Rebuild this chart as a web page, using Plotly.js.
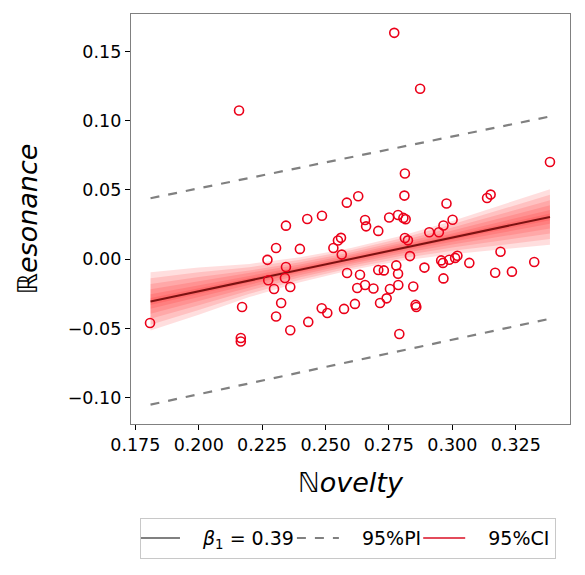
<!DOCTYPE html>
<html>
<head>
<meta charset="utf-8">
<script src="https://cdn.plot.ly/plotly-3.0.1.min.js"></script>
<style>html,body{margin:0;padding:0;background:#fff}#chart{width:585px;height:575px}</style>
</head>
<body>
<div id="chart"></div>
<script>
// Scatter observations (Novelty, Resonance)
const noveltyX = [0.1808,0.2159,0.2171,0.2166,0.2166,0.2271,0.2305,0.2344,0.2428,0.2486,
  0.2584,0.2344,0.2274,0.2297,0.2340,0.2361,0.2325,0.2305,0.2361,0.2432,
  0.2399,0.2485,0.2507,0.2573,0.2531,0.2549,0.2561,0.2564,0.2585,0.2813,
  0.2811,0.2629,0.2977,0.2656,0.2660,0.2708,0.2751,0.2786,0.2807,0.2816,
  0.3001,0.2965,0.2909,0.2947,0.2813,0.2825,0.2833,0.2956,0.2963,0.2988,
  0.3011,0.3020,0.3067,0.3190,0.3169,0.3235,0.3323,0.3385,0.3137,0.3151,
  0.2890,0.2779,0.2786,0.2708,0.2730,0.2636,0.2625,0.2656,0.2689,0.2754,
  0.2787,0.2846,0.2965,0.2616,0.2715,0.2741,0.2855,0.2858,0.2791,0.2771,0.2873];
const resonanceY = [-0.0461,0.1073,-0.0345,-0.0569,-0.0594,-0.0005,0.0081,0.0242,0.0290,0.0314,
  0.0408,-0.0056,-0.0152,-0.0215,-0.0136,-0.0201,-0.0316,-0.0414,-0.0513,-0.0453,
  0.0074,-0.0354,-0.0389,-0.0359,0.0081,0.0135,0.0154,0.0033,-0.0100,0.0618,
  0.0459,0.0454,0.0402,0.0283,0.0237,0.0204,0.0301,0.0319,0.0298,0.0288,
  0.0285,0.0243,0.0194,0.0194,0.0153,0.0136,0.0022,-0.0009,-0.0027,-0.0004,
  0.0009,0.0025,-0.0027,0.0054,-0.0098,-0.0090,-0.0020,0.0701,0.0442,0.0466,
  -0.0061,-0.0045,-0.0105,-0.0078,-0.0081,-0.0112,-0.0208,-0.0186,-0.0212,-0.0215,
  -0.0186,-0.0197,-0.0139,-0.0323,-0.0316,-0.0283,-0.0330,-0.0345,-0.0540,0.1634,0.1230];

// Fitted line and confidence band
const fitX = [0.181,0.200,0.220,0.240,0.260,0.280,0.300,0.320,0.3385];
const fitY = [-0.0305,-0.0231,-0.0154,-0.0076,0.0001,0.0079,0.0156,0.0234,0.0305];
const ciHalf = [0.021,0.017,0.012,0.009,0.008,0.009,0.012,0.016,0.020];

// Prediction interval lines
const piX = [0.181,0.3385];
const piUpper = [0.044,0.103];
const piLower = [-0.105,-0.043];

const betaLabel = '<i>β</i><sub>1</sub> = 0.39';
const piLabel = '95%PI';
const ciLabel = '95%CI';

const traces = [];
// layered CI band
const layerFactors = [1.0, 0.8, 0.6, 0.42, 0.25, 0.12];
layerFactors.forEach(f => {
  const up = fitY.map((v,i)=>v+ciHalf[i]*f);
  const lo = fitY.map((v,i)=>v-ciHalf[i]*f);
  traces.push({
    x: fitX.concat(fitX.slice().reverse()),
    y: up.concat(lo.slice().reverse()),
    type:'scatter', mode:'lines', fill:'toself',
    fillcolor:'rgba(255,0,0,0.13)', line:{width:0},
    hoverinfo:'skip', showlegend:false
  });
});
// fitted line
traces.push({x: fitX, y: fitY, type:'scatter', mode:'lines',
  line:{color:'rgb(125,18,18)', width:2}, showlegend:false});
// PI lines
traces.push({x: piX, y: piUpper, type:'scatter', mode:'lines',
  line:{color:'#808080', width:2.2, dash:'dash'}, showlegend:false});
traces.push({x: piX, y: piLower, type:'scatter', mode:'lines',
  line:{color:'#808080', width:2.2, dash:'dash'}, showlegend:false});
// scatter
traces.push({x: noveltyX, y: resonanceY, type:'scatter', mode:'markers',
  marker:{symbol:'circle-open', size:9, color:'rgb(235,0,25)', line:{width:1.6, color:'rgb(235,0,25)'}},
  showlegend:false});
// legend entries
traces.push({x:[null], y:[null], type:'scatter', mode:'lines', name: betaLabel,
  line:{color:'#808080', width:2}});
traces.push({x:[null], y:[null], type:'scatter', mode:'lines', name: piLabel,
  line:{color:'#808080', width:2, dash:'dash'}});
traces.push({x:[null], y:[null], type:'scatter', mode:'lines', name: ciLabel,
  line:{color:'rgba(220,30,50,0.8)', width:2}});

const layout = {
  width:585, height:575,
  margin:{l:131, r:15, t:14, b:151},
  paper_bgcolor:'#fff', plot_bgcolor:'#fff',
  font:{family:'DejaVu Sans', size:18, color:'#000'},
  xaxis:{range:[0.1733,0.3464], tickvals:[0.175,0.2,0.225,0.25,0.275,0.3,0.325],
    ticktext:['0.175','0.200','0.225','0.250','0.275','0.300','0.325'],
    showgrid:false, zeroline:false, ticks:'outside', ticklen:5, tickcolor:'#000',
    tickfont:{size:17.5},
    showline:true, mirror:true, linecolor:'#808080', linewidth:1.2,
    title:{text:'<i>ℕovelty</i>', font:{size:27}, standoff:18}},
  yaxis:{range:[-0.119,0.177], tickvals:[-0.1,-0.05,0,0.05,0.1,0.15],
    ticktext:['−0.10','−0.05','0.00','0.05','0.10','0.15'],
    showgrid:false, zeroline:false, ticks:'outside', ticklen:5, tickcolor:'#000',
    tickfont:{size:17.5},
    showline:true, mirror:true, linecolor:'#808080', linewidth:1.2,
    title:{text:'<i>ℝesonance</i>', font:{size:27}, standoff:22}},
  legend:{orientation:'h', x:0.02, xanchor:'left', y:-0.229, yanchor:'top',
    bordercolor:'#c8c8c8', borderwidth:1.2, bgcolor:'#fff',
    font:{size:19}, itemwidth:52, tracegroupgap:0},
  showlegend:true
};
Plotly.newPlot('chart', traces, layout, {staticPlot:true, displayModeBar:false}).then(() => {
  document.querySelectorAll('.legend .legendlines path').forEach(p => p.setAttribute('d', 'M-3,0h42'));
});
</script>
</body>
</html>
